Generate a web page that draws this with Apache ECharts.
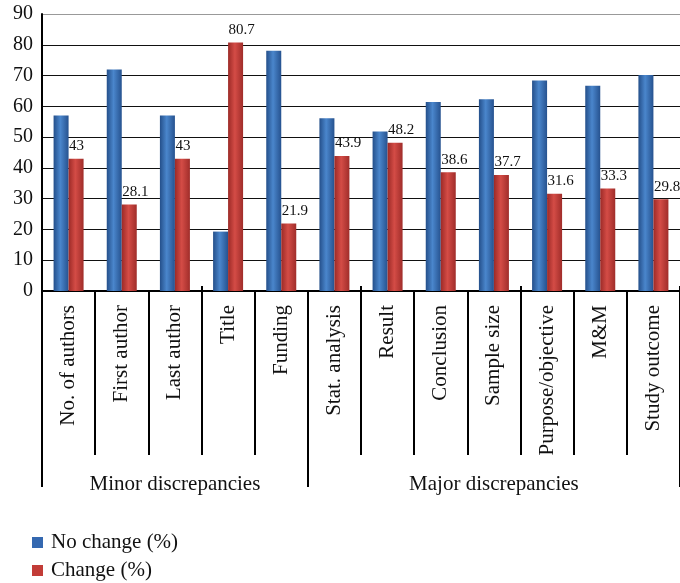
<!DOCTYPE html>
<html>
<head>
<meta charset="utf-8">
<script src="https://cdn.jsdelivr.net/npm/echarts@6/dist/echarts.min.js"></script>
<style>html,body{margin:0;padding:0;background:#fff;}#c{width:680px;height:583px;}</style>
</head>
<body>
<div id="c"></div>
<script>
const categories = ['No. of authors','First author','Last author','Title','Funding','Stat. analysis','Result','Conclusion','Sample size','Purpose/objective','M&M','Study outcome'];
const noChange = [57, 72, 57, 19.3, 78.1, 56.1, 51.8, 61.4, 62.3, 68.4, 66.7, 70.2];
const change = [43, 28.1, 43, 80.7, 21.9, 43.9, 48.2, 38.6, 37.7, 31.6, 33.3, 29.8];
const groupNames = ['Minor discrepancies', 'Major discrepancies'];
const groupSizes = [5, 7];
const yTicks = [0, 10, 20, 30, 40, 50, 60, 70, 80, 90];

// build group label row from group definitions
const groupStarts = [];
const groupRow = categories.map(() => '');
let start = 0;
groupNames.forEach((g, i) => {
  groupStarts.push(start);
  groupRow[start + Math.floor(groupSizes[i] / 2)] = g;
  start += groupSizes[i];
});

const FONT = '"Liberation Serif", "DejaVu Serif", serif';
const blueGrad = new echarts.graphic.LinearGradient(0, 0, 1, 0, [
  {offset: 0, color: '#244f8a'}, {offset: 0.45, color: '#4a86cc'}, {offset: 1, color: '#26528f'}
]);
const redGrad = new echarts.graphic.LinearGradient(0, 0, 1, 0, [
  {offset: 0, color: '#9c2a27'}, {offset: 0.45, color: '#d44c46'}, {offset: 1, color: '#a02d2a'}
]);

const chart = echarts.init(document.getElementById('c'), null, {renderer: 'canvas'});
chart.setOption({
  animation: false,
  backgroundColor: '#fff',
  grid: {left: 42, right: -2, top: 14, bottom: 292, containLabel: false},
  legend: {
    orient: 'vertical', left: 32, top: 532, padding: 0,
    itemWidth: 11, itemHeight: 11, itemGap: 7,
    textStyle: {fontFamily: FONT, fontSize: 21, color: '#111', lineHeight: 20, padding: [0, 0, 0, 3]},
    data: [
      {name: 'No change (%)', icon: 'rect', itemStyle: {color: '#3468b0'}},
      {name: 'Change (%)', icon: 'rect', itemStyle: {color: '#c23c37'}}
    ]
  },
  xAxis: [
    {
      type: 'category', data: categories, position: 'bottom',
      axisLine: {show: true, lineStyle: {color: '#000', width: 2}},
      axisTick: {show: true, length: 164, lineStyle: {color: '#000', width: 2}},
      axisLabel: {interval: 0, rotate: 90, margin: 14, fontFamily: FONT, fontSize: 21, color: '#111'}
    },
    {
      type: 'category', data: groupRow, position: 'bottom',
      axisLine: {show: false},
      axisTick: {show: true, length: 196, interval: (i) => groupStarts.indexOf(i) >= 0, lineStyle: {color: '#000', width: 2}},
      axisLabel: {interval: 0, margin: 183, fontFamily: FONT, fontSize: 21, color: '#111'}
    },
    {
      type: 'category', data: categories, position: 'bottom',
      axisLine: {show: false},
      axisTick: {show: true, inside: true, length: 5, lineStyle: {color: '#000', width: 2}},
      axisLabel: {show: false}
    }
  ],
  yAxis: {
    type: 'value', min: yTicks[0], max: yTicks[yTicks.length - 1], interval: yTicks[1] - yTicks[0],
    axisLine: {show: true, lineStyle: {color: '#000', width: 2}},
    axisTick: {show: false},
    axisLabel: {margin: 9, fontFamily: FONT, fontSize: 20, color: '#111'},
    splitLine: {show: true, lineStyle: {color: ['#000','#111','#111','#111','#111','#111','#111','#111','#111','#999'], width: 1}}
  },
  series: [
    {
      name: 'No change (%)', type: 'bar', xAxisIndex: 0, data: noChange,
      barWidth: 15, barGap: '0%',
      itemStyle: {color: blueGrad}
    },
    {
      name: 'Change (%)', type: 'bar', xAxisIndex: 0, data: change,
      barWidth: 15,
      itemStyle: {color: redGrad},
      label: {show: true, position: 'top', align: 'left', offset: [-7, 0], distance: 5,
        fontFamily: FONT, fontSize: 15, color: '#111'}
    }
  ]
});
</script>
</body>
</html>
